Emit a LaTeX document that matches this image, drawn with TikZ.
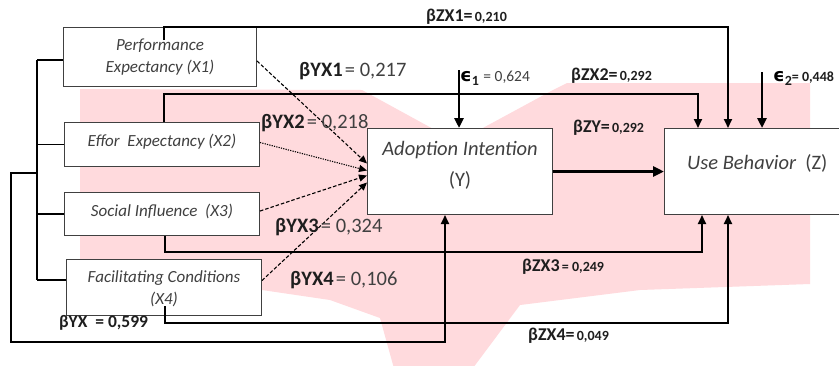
\documentclass[tikz,border=0pt]{standalone}
\usepackage{fontspec}
\setmainfont{Carlito}
\newfontfamily\dvfont{DejaVu Sans}
\usetikzlibrary{arrows.meta}
\definecolor{wash}{RGB}{255,218,221}
\definecolor{ink}{RGB}{30,30,30}
\definecolor{boxtext}{RGB}{64,64,64}
% coefficient typography
\newcommand\bsym[1]{{\fontsize{18}{20}\selectfont\bfseries\color{ink}#1}}
\newcommand\bigsym[1]{{\fontsize{20.5}{22}\selectfont\bfseries\color{ink}#1}}
\newcommand\bval[1]{{\fontsize{14}{16}\selectfont\bfseries\color{ink}#1}}
\newcommand\rval[1]{{\fontsize{20.5}{22}\selectfont\color{boxtext}#1}}
\newcommand\sval[1]{{\fontsize{15.5}{17}\selectfont\color{boxtext}#1}}
\newcommand\eps{{\dvfont\bfseries\fontsize{18}{20}\selectfont ϵ}}
\tikzset{
  x=1pt, y=-1pt,
  box/.style={draw=black!75, line width=1pt, fill=white, anchor=north west,
    inner sep=0pt},
  boxlbl/.style={align=center, text=boxtext, inner sep=0pt,
    font=\fontsize{17}{22}\selectfont\itshape},
  biglbl/.style={boxlbl, font=\fontsize{20.5}{24}\selectfont\itshape},
  conn/.style={line width=1.9pt, draw=black},
  tip/.style={-{Triangle[length=9pt,width=8pt]}},
  dashline/.style={line width=1.1pt, dash pattern=on 3.5pt off 2pt, -{Triangle[length=8pt,width=7pt]}},
  dotline/.style={line width=1.1pt, dash pattern=on 1.2pt off 1.2pt, -{Triangle[length=8pt,width=7pt]}},
  lbl/.style={anchor=west, inner sep=0pt}
}
\begin{document}
\begin{tikzpicture}
\clip (0,0) rectangle (839,365);
\fill[white] (0,0) rectangle (839,365);

% pale background emblem
\fill[wash] (80,89) -- (362,90) -- (457,142) -- (553,90) -- (567,83) -- (810,83)
  -- (810,284) -- (640,290) -- (520,305) -- (470,372) -- (395,372)
  -- (380,318) -- (330,300) -- (262,290) -- (80,290) -- cycle;

% constructs
\node[box, minimum width=193pt, minimum height=59pt,
  label={[boxlbl]center:{Performance\\Expectancy (X1)}}] (x1) at (63,27) {};
\node[box, minimum width=195pt, minimum height=44pt,
  label={[boxlbl, yshift=3pt]center:{Effor\ \ Expectancy (X2)}}] (x2) at (64,122) {};
\node[box, minimum width=195pt, minimum height=43pt,
  label={[boxlbl, yshift=3pt]center:{Social Influence\ \ (X3)}}] (x3) at (64,192) {};
\node[box, minimum width=195pt, minimum height=56pt,
  label={[boxlbl, yshift=-1pt]center:{Facilitating Conditions\\(X4)}}] (x4) at (66,259) {};
\node[box, minimum width=185pt, minimum height=86pt] (y) at (367,128) {};
\node[biglbl] (yt) at ([yshift=6pt]y.center)
  {Adoption Intention\\[7pt]{\upshape (Y)}};
\node[box, minimum width=200pt, minimum height=86pt] (z) at (664,128) {};
\node[biglbl, anchor=west] (zt) at ([xshift=23pt,yshift=8pt]z.west)
  {Use Behavior\ \ {\upshape(Z)}};

% bracket joining the four constructs
\coordinate (bt) at (37,60);
\coordinate (bb) at (37,280);
\draw[conn] (bt) -- (bb);
\draw[conn] (bt) -- (bt -| x1.west);
\draw[conn] (x2.west -| bt) -- (x2.west);
\draw[conn] (x3.west -| bt) -- (x3.west);
\draw[conn] (bb) -- (bb -| x4.west);

% joint path of X1..X4 into Y
\coordinate (jn) at (37,173);
\draw[conn, tip] (jn) -- (11,173) -- (11,342) -| ([xshift=78pt]y.south west);

% direct paths X -> Z
\draw[conn, tip] ([xshift=101pt,yshift=-13pt]x1.north west) -- ([xshift=101pt]x1.north west)
  -| ([xshift=64pt]z.north west);
\draw[conn, tip] ([xshift=100pt]x2.north west) -- ++(0,-28) -| ([xshift=34pt]z.north west);
\draw[conn, tip] ([xshift=101pt]x3.south west) -- ++(0,16) -| ([xshift=38pt]z.south west);
\draw[conn, tip] ([xshift=99pt,yshift=10pt]x4.south west) -- ++(0,17) -| ([xshift=64pt]z.south west);

% paths X -> Y
\draw[dashline] ([yshift=-4pt]x1.east) -- ([yshift=8pt]y.west);
\draw[dotline] ([yshift=2pt]x2.east) -- ([yshift=1pt]y.west);
\draw[dashline] ([yshift=3pt]x3.east) -- ([yshift=-4pt]y.west);
\draw[dashline] ([yshift=7pt]x4.east) -- ([yshift=-11pt]y.west);

% Y -> Z
\draw[line width=3pt, -{Triangle[length=11pt,width=10pt]}] (y.east) -- (z.west);

% error terms
\coordinate (e1) at (459,70);
\coordinate (e2) at (762,72);
\draw[line width=2.6pt, -{Triangle[length=10pt,width=9pt]}] (e1) -- (e1 |- y.north);
\draw[line width=2.6pt, -{Triangle[length=10pt,width=9pt]}] (e2) -- (e2 |- z.north);

% coefficients
\node[lbl] (lzx1) at (426,17) {\bsym{βZX1=} \bval{0,210}};
\node[lbl] (lyx1) at (299,71) {\bigsym{βYX1} \rval{= 0,217}};
\node[lbl] (le1) at (460,78) {\eps\raisebox{-4pt}{\bval{1}}\ \ \sval{= 0,624}};
\node[lbl] (lyx2) at (261,123) {\bigsym{βYX2} \rval{= 0,218}};
\node[lbl] (lzx2) at (571,76) {\bsym{βZX2=} \bval{0,292}};
\node[lbl] (lzy) at (573,128) {\bsym{βZY=} \bval{0,292}};
\node[lbl] (le2) at (773,78) {\eps\raisebox{-4pt}{\bval{2}}\bval{= 0,448}};
\node[lbl] (lyx3) at (275,227) {\bigsym{βYX3} \rval{= 0,324}};
\node[lbl] (lyx4) at (290,280) {\bigsym{βYX4} \rval{= 0,106}};
\node[lbl] (lzx3) at (522,267) {\bsym{βZX3} \bval{= 0,249}};
\node[lbl] (lzx4) at (528,336) {\bsym{βZX4=} \bval{0,049}};
\node[lbl] (lyx) at (59,323) {{\fontsize{17.5}{20}\selectfont\bfseries\color{ink}βYX\ \ = 0,599}};
\end{tikzpicture}
\end{document}
